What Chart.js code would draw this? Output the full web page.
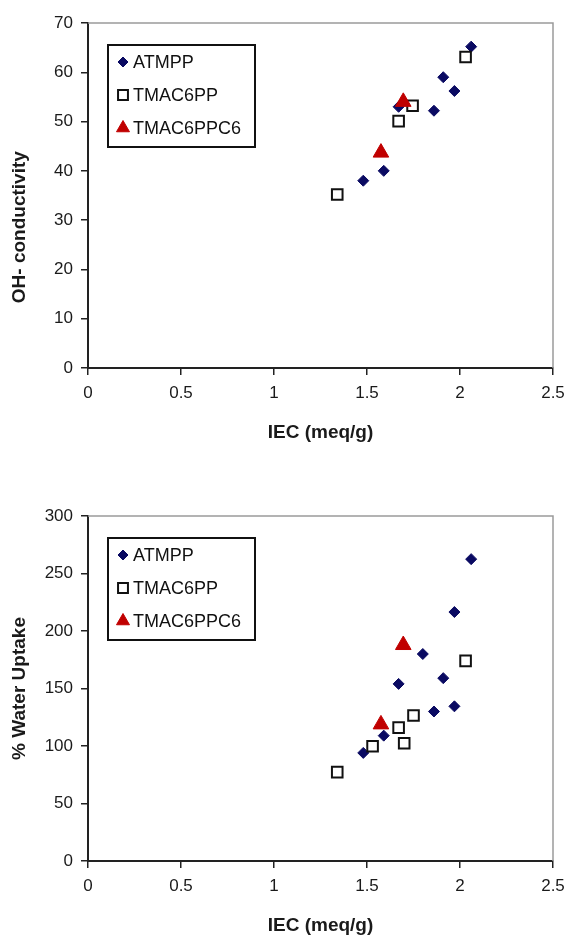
<!DOCTYPE html>
<html lang="en">
<head>
    <meta charset="UTF-8">
    <title>IEC vs conductivity and water uptake</title>
    <script src="https://cdn.jsdelivr.net/npm/chart.js@4.4.1/dist/chart.umd.min.js"></script>
    <style>
        body {
            margin: 0;
            background-color: #ffffff;
            font-family: "Liberation Sans", Arial, sans-serif;
        }
        .chart-box {
            position: absolute;
            left: 0;
            width: 570px;
            height: 444px;
        }
    </style>
</head>
<body>
    <div class="chart-box" style="top: 0px;"><canvas id="condChart" width="570" height="444"></canvas></div>
    <div class="chart-box" style="top: 493px;"><canvas id="waterChart" width="570" height="444"></canvas></div>
    <script>
        const seriesNames = ['ATMPP', 'TMAC6PP', 'TMAC6PPC6'];
        const xTicks = [0, 0.5, 1, 1.5, 2, 2.5];
        const condTicks = [0, 10, 20, 30, 40, 50, 60, 70];
        const waterTicks = [0, 50, 100, 150, 200, 250, 300];

        // OH- conductivity vs IEC
        const condAtmppIec = [1.48, 1.59, 1.67, 1.86, 1.91, 1.97, 2.06];
        const condAtmpp = [38, 40, 53, 52.2, 59, 56.2, 65.2];
        const condPpIec = [1.34, 1.67, 1.745, 2.03];
        const condPp = [35.2, 50.1, 53.2, 63.1];
        const condPpc6Iec = [1.575, 1.695];
        const condPpc6 = [43.7, 54];

        // % water uptake vs IEC
        const waterAtmppIec = [1.48, 1.59, 1.67, 1.80, 1.86, 1.91, 1.97, 1.97, 2.06];
        const waterAtmpp = [94, 109, 154, 180, 130, 159, 134.5, 216.5, 262.5];
        const waterPpIec = [1.34, 1.53, 1.67, 1.70, 1.75, 2.03];
        const waterPp = [77.3, 99.8, 116, 102.4, 126.5, 174];
        const waterPpc6Iec = [1.575, 1.695];
        const waterPpc6 = [118.8, 187.8];

        const textColor = '#1a1a1a';

        function toPoints(xs, ys) {
            return xs.map((x, i) => ({ x: x, y: ys[i] }));
        }

        // gray frame on top and right of the plot area
        const framePlugin = {
            id: 'frame',
            beforeDatasetsDraw(chart) {
                const { ctx, chartArea: a } = chart;
                ctx.save();
                ctx.strokeStyle = '#9a9a9a';
                ctx.lineWidth = 1.5;
                ctx.beginPath();
                ctx.moveTo(a.left, a.top);
                ctx.lineTo(a.right, a.top);
                ctx.lineTo(a.right, a.bottom);
                ctx.stroke();
                ctx.restore();
            }
        };

        // boxed legend inside the plot, top left
        const boxLegend = {
            id: 'boxLegend',
            afterDraw(chart) {
                const { ctx, chartArea: a } = chart;
                const bx = a.left + 20, by = a.top + 22;
                ctx.save();
                ctx.strokeStyle = '#111';
                ctx.lineWidth = 2;
                ctx.strokeRect(bx, by, 147, 102);
                ctx.font = '18px "Liberation Sans", Arial, sans-serif';
                ctx.textBaseline = 'middle';
                chart.data.datasets.forEach((ds, i) => {
                    const y = by + 17 + i * 33;
                    ctx.fillStyle = ds.backgroundColor;
                    ctx.strokeStyle = ds.borderColor;
                    ctx.lineWidth = ds.borderWidth;
                    Chart.helpers.drawPoint(ctx, {
                        pointStyle: ds.pointStyle,
                        radius: ds.legendRadius,
                        rotation: 0,
                        borderWidth: ds.borderWidth
                    }, bx + 15, y);
                    ctx.fillStyle = '#111';
                    ctx.fillText(ds.label, bx + 25, y + 1);
                });
                ctx.restore();
            }
        };

        function makeDatasets(a, b, c) {
            return [
                {
                    label: seriesNames[0], data: a, pointStyle: 'rectRot', pointRadius: 5.5, legendRadius: 5,
                    backgroundColor: '#0a0a62', borderColor: '#0a0a62', borderWidth: 1, order: 3
                },
                {
                    label: seriesNames[1], data: b, pointStyle: 'rect', pointRadius: 7.5, legendRadius: 7,
                    backgroundColor: '#ffffff', borderColor: '#111', borderWidth: 2, order: 2
                },
                {
                    label: seriesNames[2], data: c, pointStyle: 'triangle', pointRadius: 9, legendRadius: 7.5,
                    backgroundColor: '#c00000', borderColor: '#c00000', borderWidth: 1, order: 1
                }
            ];
        }

        function axis(ticks, title, titlePad, fit) {
            return {
                type: 'linear',
                min: ticks[0],
                max: ticks[ticks.length - 1],
                afterBuildTicks: s => { s.ticks = ticks.map(v => ({ value: v })); },
                afterFit: fit,
                ticks: {
                    color: textColor,
                    padding: 8,
                    callback: v => String(v),
                    font: { family: '"Liberation Sans", Arial, sans-serif', size: 17 }
                },
                grid: {
                    drawOnChartArea: false,
                    drawTicks: true,
                    tickLength: 7,
                    color: '#222',
                    lineWidth: 1.5
                },
                border: { color: '#222', width: 2 },
                title: {
                    display: true,
                    text: title,
                    color: textColor,
                    padding: titlePad,
                    font: { family: '"Liberation Sans", Arial, sans-serif', size: 19, weight: 'bold' }
                }
            };
        }

        function makeChart(id, datasets, yTicks, yTitle) {
            return new Chart(document.getElementById(id), {
                type: 'scatter',
                data: { datasets: datasets },
                options: {
                    responsive: false,
                    animation: false,
                    layout: { padding: { top: 23, left: 0, right: 17, bottom: 0 } },
                    plugins: {
                        legend: { display: false },
                        tooltip: { enabled: false }
                    },
                    scales: {
                        x: axis(xTicks, 'IEC (meq/g)', { top: 0, bottom: 0 }, s => {
                            s.height = 76;
                            s.paddingLeft = 0;
                            s.paddingRight = 0;
                        }),
                        y: axis(yTicks, yTitle, { top: 8, bottom: 0 }, s => {
                            s.width = 88;
                            s.paddingTop = 0;
                            s.paddingBottom = 0;
                        })
                    }
                },
                plugins: [framePlugin, boxLegend]
            });
        }

        makeChart('condChart',
            makeDatasets(toPoints(condAtmppIec, condAtmpp), toPoints(condPpIec, condPp), toPoints(condPpc6Iec, condPpc6)),
            condTicks, 'OH- conductivity' + ' '.repeat(12));

        makeChart('waterChart',
            makeDatasets(toPoints(waterAtmppIec, waterAtmpp), toPoints(waterPpIec, waterPp), toPoints(waterPpc6Iec, waterPpc6)),
            waterTicks, '% Water Uptake');
    </script>
</body>
</html>
